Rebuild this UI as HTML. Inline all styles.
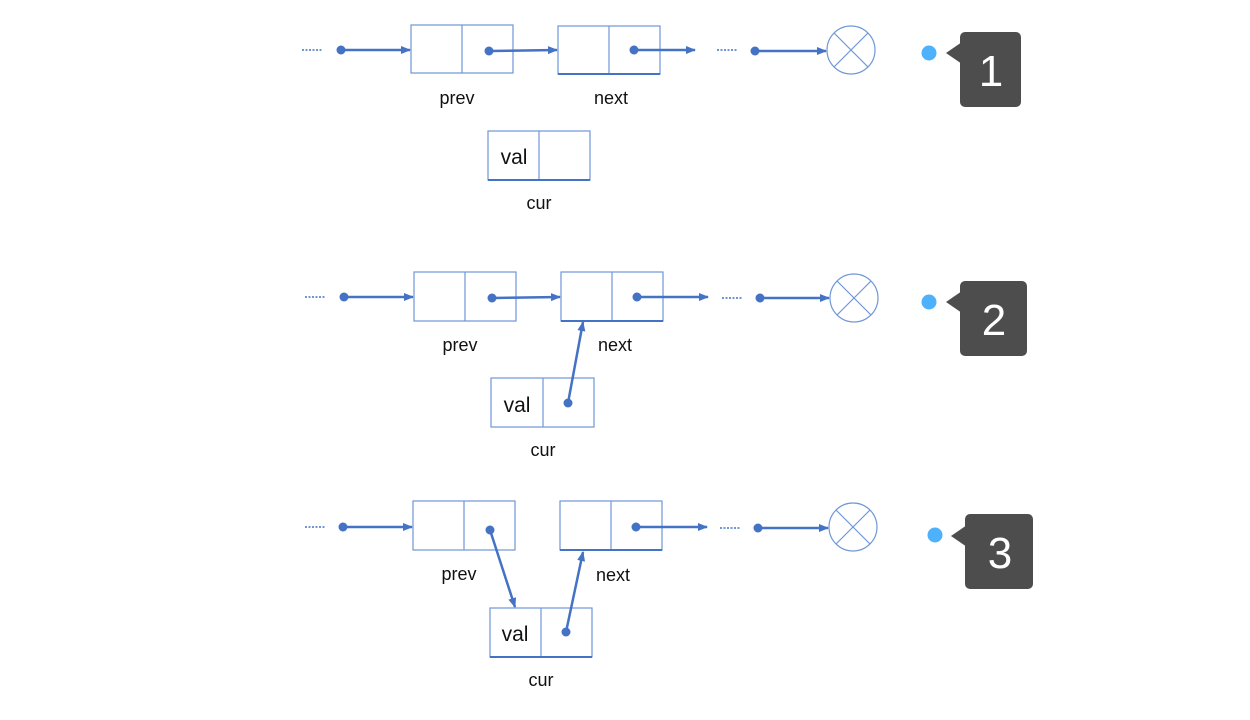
<!DOCTYPE html>
<html><head><meta charset="utf-8"><style>
html,body{margin:0;padding:0;background:#fff;}
svg{display:block;}
text{font-family:"Liberation Sans",sans-serif;}
</style></head><body>
<svg width="1250" height="720" viewBox="0 0 1250 720" xmlns="http://www.w3.org/2000/svg">
<defs>
<marker id="ah" markerWidth="10" markerHeight="8" refX="9" refY="4" orient="auto" markerUnits="userSpaceOnUse">
<path d="M0,0 L10,4 L0,8 Z" fill="#4472c4"/>
</marker>
</defs>
<g fill="none" stroke="#4472c4">
<!-- Row 1 -->
<line x1="302" y1="50" x2="322" y2="50" stroke-width="1.5" stroke-dasharray="2,1.5"/>
<line x1="717" y1="50" x2="737" y2="50" stroke-width="1.5" stroke-dasharray="2,1.5"/>
<!-- Row 2 -->
<line x1="305" y1="297" x2="325" y2="297" stroke-width="1.5" stroke-dasharray="2,1.5"/>
<line x1="722" y1="298" x2="742" y2="298" stroke-width="1.5" stroke-dasharray="2,1.5"/>
<!-- Row 3 -->
<line x1="305" y1="527" x2="325" y2="527" stroke-width="1.5" stroke-dasharray="2,1.5"/>
<line x1="720" y1="528" x2="740" y2="528" stroke-width="1.5" stroke-dasharray="2,1.5"/>
</g>
<g fill="none" stroke="#6f97d8" stroke-width="1.2">
<!-- boxes row1 -->
<rect x="411" y="25" width="102" height="48"/><line x1="462" y1="25" x2="462" y2="73"/>
<rect x="558" y="26" width="102" height="48"/><line x1="609" y1="26" x2="609" y2="74"/>
<rect x="488" y="131" width="102" height="49"/><line x1="539" y1="131" x2="539" y2="180"/>
<!-- row2 -->
<rect x="414" y="272" width="102" height="49"/><line x1="465" y1="272" x2="465" y2="321"/>
<rect x="561" y="272" width="102" height="49"/><line x1="612" y1="272" x2="612" y2="321"/>
<rect x="491" y="378" width="103" height="49"/><line x1="543" y1="378" x2="543" y2="427"/>
<!-- row3 -->
<rect x="413" y="501" width="102" height="49"/><line x1="464" y1="501" x2="464" y2="550"/>
<rect x="560" y="501" width="102" height="49"/><line x1="611" y1="501" x2="611" y2="550"/>
<rect x="490" y="608" width="102" height="49"/><line x1="541" y1="608" x2="541" y2="657"/>
<!-- circles -->
<circle cx="851" cy="50" r="24"/><line x1="834" y1="33" x2="868" y2="67"/><line x1="868" y1="33" x2="834" y2="67"/>
<circle cx="854" cy="298" r="24"/><line x1="837" y1="281" x2="871" y2="315"/><line x1="871" y1="281" x2="837" y2="315"/>
<circle cx="853" cy="527" r="24"/><line x1="836" y1="510" x2="870" y2="544"/><line x1="870" y1="510" x2="836" y2="544"/>
</g>
<!-- thicker bottoms -->
<g stroke="#4472c4" stroke-width="2">
<line x1="558" y1="74" x2="660" y2="74"/><line x1="488" y1="180" x2="590" y2="180"/>
<line x1="561" y1="321" x2="663" y2="321"/>
<line x1="560" y1="550" x2="662" y2="550"/><line x1="490" y1="657" x2="592" y2="657"/>
</g>
<g stroke="#4472c4" stroke-width="2.5" fill="none" marker-end="url(#ah)">
<line x1="341" y1="50" x2="410" y2="50"/>
<line x1="489" y1="51" x2="557" y2="50"/>
<line x1="634" y1="50" x2="695" y2="50"/>
<line x1="755" y1="51" x2="826" y2="51"/>
<line x1="344" y1="297" x2="413" y2="297"/>
<line x1="492" y1="298" x2="560" y2="297"/>
<line x1="637" y1="297" x2="708" y2="297"/>
<line x1="760" y1="298" x2="829" y2="298"/>
<line x1="568" y1="403" x2="583" y2="322"/>
<line x1="343" y1="527" x2="412" y2="527"/>
<line x1="490" y1="530" x2="515" y2="607"/>
<line x1="636" y1="527" x2="707" y2="527"/>
<line x1="758" y1="528" x2="828" y2="528"/>
<line x1="566" y1="632" x2="583" y2="552"/>
</g>
<g fill="#4472c4">
<circle cx="341" cy="50" r="4.5"/><circle cx="489" cy="51" r="4.5"/><circle cx="634" cy="50" r="4.5"/><circle cx="755" cy="51" r="4.5"/>
<circle cx="344" cy="297" r="4.5"/><circle cx="492" cy="298" r="4.5"/><circle cx="637" cy="297" r="4.5"/><circle cx="760" cy="298" r="4.5"/><circle cx="568" cy="403" r="4.5"/>
<circle cx="343" cy="527" r="4.5"/><circle cx="490" cy="530" r="4.5"/><circle cx="636" cy="527" r="4.5"/><circle cx="758" cy="528" r="4.5"/><circle cx="566" cy="632" r="4.5"/>
</g>
<g font-size="18" fill="#111" text-anchor="middle">
<text x="457" y="104">prev</text><text x="611" y="104">next</text><text x="539" y="209">cur</text>
<text x="460" y="351">prev</text><text x="615" y="351">next</text><text x="543" y="456">cur</text>
<text x="459" y="580">prev</text><text x="613" y="581">next</text><text x="541" y="686">cur</text>
</g>
<g font-size="21" fill="#111" text-anchor="middle">
<text x="514" y="164">val</text><text x="517" y="412">val</text><text x="515" y="641">val</text>
</g>
<!-- callouts -->
<g fill="#4db1fb"><circle cx="929" cy="53" r="7.5"/><circle cx="929" cy="302" r="7.5"/><circle cx="935" cy="535" r="7.5"/></g>
<g fill="#4d4d4d">
<rect x="960" y="32" width="61" height="75" rx="5"/><path d="M946,53 L962,42 L962,64 Z"/>
<rect x="960" y="281" width="67" height="75" rx="5"/><path d="M946,302 L962,291 L962,313 Z"/>
<rect x="965" y="514" width="68" height="75" rx="5"/><path d="M951,536 L967,525 L967,547 Z"/>
</g>
<g fill="#fff" font-size="44" text-anchor="middle">
<text x="991" y="86">1</text><text x="994" y="335">2</text><text x="1000" y="568">3</text>
</g>
</svg>
</body></html>
